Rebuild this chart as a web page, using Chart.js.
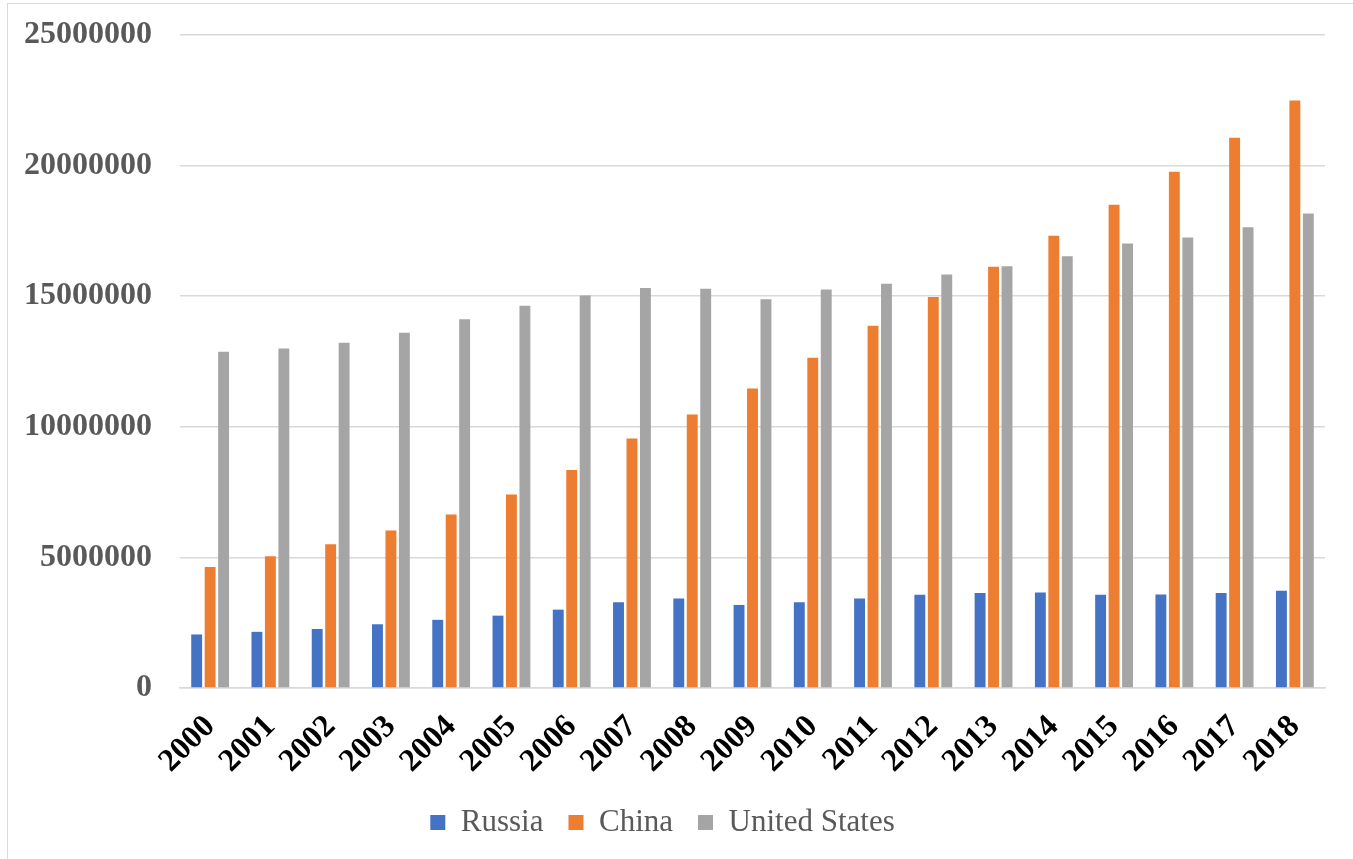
<!DOCTYPE html>
<html>
<head>
<meta charset="utf-8">
<script src="https://cdn.jsdelivr.net/npm/chart.js@4.4.0/dist/chart.umd.min.js"></script>
<style>
    body { margin: 0; background: #fff; overflow: hidden; }
    #frame { position: absolute; left: 7px; top: 3px; width: 1360px; height: 870px; border: 1.5px solid #d9d9d9; }
    #wrap { position: absolute; left: 0; top: 0; width: 1353px; height: 859px; }
</style>
</head>
<body>
<div id="frame"></div>
<div id="wrap"><canvas id="barChart" width="1353" height="859"></canvas></div>
<script>
    // categories and series
    const years = ['2000', '2001', '2002', '2003', '2004', '2005', '2006', '2007', '2008', '2009',
        '2010', '2011', '2012', '2013', '2014', '2015', '2016', '2017', '2018'];
    const russia = [2050000, 2150000, 2260000, 2440000, 2610000, 2770000, 3000000, 3280000, 3430000, 3180000,
        3280000, 3430000, 3570000, 3640000, 3660000, 3570000, 3580000, 3640000, 3720000];
    const china = [4630000, 5040000, 5500000, 6030000, 6640000, 7410000, 8350000, 9550000, 10470000, 11470000,
        12640000, 13870000, 14970000, 16130000, 17310000, 18500000, 19760000, 21070000, 22490000];
    const unitedStates = [12870000, 13000000, 13220000, 13600000, 14120000, 14630000, 15030000, 15310000, 15290000, 14880000,
        15260000, 15480000, 15830000, 16150000, 16530000, 17020000, 17250000, 17640000, 18170000];
    const yTicks = [0, 5000000, 10000000, 15000000, 20000000, 25000000];

    const serif = "'Liberation Serif', 'Times New Roman', serif";

    var ctx = document.getElementById('barChart').getContext('2d');
    var barChart = new Chart(ctx, {
        type: 'bar',
        data: {
            labels: years,
            datasets: [{
                label: 'Russia',
                backgroundColor: '#4472C4',
                data: russia
            }, {
                label: 'China',
                backgroundColor: '#ED7D31',
                data: china
            }, {
                label: 'United States',
                backgroundColor: '#A5A5A5',
                data: unitedStates
            }]
        },
        options: {
            responsive: false,
            animation: false,
            categoryPercentage: 0.67,
            barPercentage: 0.81,
            layout: {
                padding: { left: 0, right: 28, top: 35, bottom: 11 }
            },
            scales: {
                x: {
                    grid: { display: false },
                    border: { color: '#d9d9d9', width: 1.5 },
                    ticks: {
                        color: '#000',
                        maxRotation: 45,
                        minRotation: 45,
                        padding: 12,
                        font: { family: serif, size: 32, weight: 'bold' }
                    },
                    afterFit: scale => { scale.height = 94; }
                },
                y: {
                    min: 0,
                    max: 25000000,
                    afterBuildTicks: scale => {
                        scale.ticks = yTicks.map(v => ({ value: v }));
                    },
                    grid: { color: '#d9d9d9', lineWidth: 1.5, drawTicks: false },
                    border: { display: false },
                    ticks: {
                        color: '#595959',
                        padding: 28,
                        font: { family: serif, size: 32, weight: 'bold' },
                        callback: v => String(v)
                    },
                    afterFit: scale => {
                        scale.width = 180;
                        scale.paddingTop = 0;
                        scale.paddingBottom = 0;
                    }
                }
            },
            plugins: {
                legend: {
                    position: 'bottom',
                    labels: {
                        color: '#595959',
                        boxWidth: 15,
                        boxHeight: 15,
                        padding: 25,
                        font: { family: serif, size: 31 }
                    }
                },
                tooltip: { enabled: false }
            }
        }
    });
</script>
</body>
</html>
